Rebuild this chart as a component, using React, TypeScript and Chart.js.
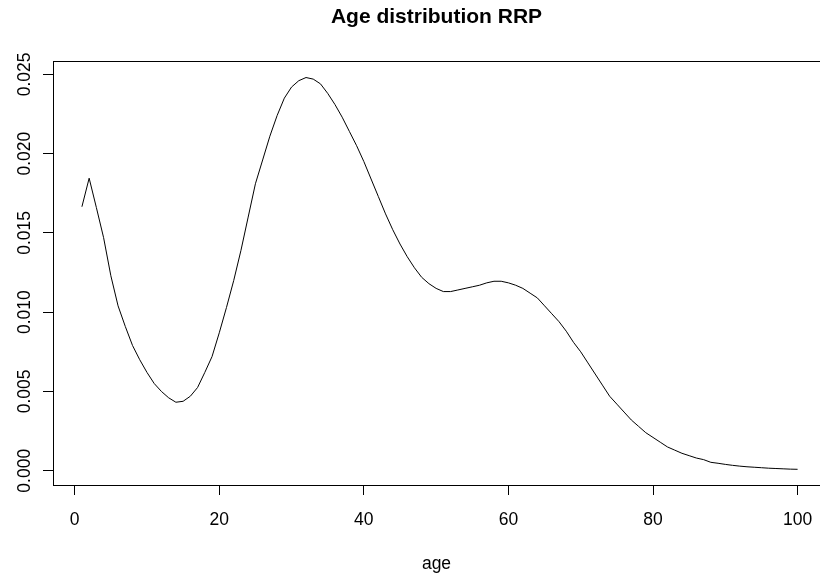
import React, { useEffect, useRef } from "react";
import { Chart, registerables } from "chart.js";

Chart.register(...registerables);

const chartTitle = "Age distribution RRP";
const xAxisTitle = "age";

const ages = [
  1, 2, 3, 4, 5, 6, 7, 8, 9, 10,
  11, 12, 13, 14, 15, 16, 17, 18, 19, 20,
  21, 22, 23, 24, 25, 26, 27, 28, 29, 30,
  31, 32, 33, 34, 35, 36, 37, 38, 39, 40,
  41, 42, 43, 44, 45, 46, 47, 48, 49, 50,
  51, 52, 53, 54, 55, 56, 57, 58, 59, 60,
  61, 62, 63, 64, 65, 66, 67, 68, 69, 70,
  71, 72, 73, 74, 75, 76, 77, 78, 79, 80,
  81, 82, 83, 84, 85, 86, 87, 88, 89, 90,
  91, 92, 93, 94, 95, 96, 97, 98, 99, 100,
];

const density = [
  0.01665, 0.01845, 0.0166, 0.0147, 0.0123, 0.0104, 0.0091, 0.0079, 0.007, 0.0062,
  0.0055, 0.005, 0.0046, 0.00432, 0.00438, 0.0047, 0.00525, 0.0062, 0.0072, 0.0087,
  0.0103, 0.012, 0.0139, 0.016, 0.0181, 0.0196, 0.0211, 0.0224, 0.0235, 0.0242,
  0.0246, 0.0248, 0.0247, 0.0244, 0.0238, 0.0231, 0.0223, 0.0214, 0.0205, 0.0195,
  0.0184, 0.0173, 0.0162, 0.0152, 0.0143, 0.0135, 0.0128, 0.0122, 0.0118, 0.0115,
  0.0113, 0.0113, 0.0114, 0.0115, 0.0116, 0.0117, 0.01185, 0.01195, 0.01195, 0.01185,
  0.0117, 0.0115, 0.0112, 0.0109, 0.0104, 0.0099, 0.0094, 0.0088, 0.0081, 0.0075,
  0.0068, 0.0061, 0.0054, 0.0047, 0.0042, 0.0037, 0.0032, 0.0028, 0.0024, 0.0021,
  0.0018, 0.0015, 0.0013, 0.0011, 0.00095, 0.0008, 0.0007, 0.00053, 0.00047, 0.0004,
  0.00034, 0.00029, 0.00025, 0.00022, 0.00019, 0.00016, 0.00014, 0.00012, 0.0001, 0.00009,
];

const xTicks = [0, 20, 40, 60, 80, 100];
const yTicks = [0, 0.005, 0.01, 0.015, 0.02, 0.025];

const FONT = "'Liberation Sans', Arial, sans-serif";

const boxPlugin = {
  id: "plotBox",
  afterDraw(chart: any) {
    const { ctx, chartArea } = chart;
    ctx.save();
    ctx.strokeStyle = "#000";
    ctx.lineWidth = 1;
    ctx.strokeRect(
      Math.round(chartArea.left) + 0.5,
      Math.round(chartArea.top) + 0.5,
      Math.round(chartArea.right - chartArea.left) + 10,
      Math.round(chartArea.bottom - chartArea.top)
    );
    ctx.restore();
  },
};

export default function App() {
  const ref = useRef<HTMLCanvasElement>(null);

  useEffect(() => {
    document.body.style.margin = "0";
    const canvas = ref.current;
    if (!canvas) return;
    const chart = new Chart(canvas, {
      type: "line",
      data: {
        datasets: [
          {
            data: ages.map((a, i) => ({ x: a, y: density[i] })),
            borderColor: "#000",
            borderWidth: 1,
            pointRadius: 0,
            tension: 0,
            fill: false,
          },
        ],
      },
      options: {
        animation: false,
        responsive: false,
        devicePixelRatio: 1,
        layout: { padding: { left: 0, right: 0, top: 0, bottom: 0 } },
        plugins: {
          legend: { display: false },
          tooltip: { enabled: false },
          title: {
            display: true,
            text: chartTitle,
            fullSize: false,
            color: "#000",
            font: { family: FONT, size: 21, weight: "bold", lineHeight: 1.2 },
            padding: { top: 5, bottom: 31 },
          },
        },
        scales: {
          x: {
            type: "linear",
            min: -3,
            max: 103.1,
            afterBuildTicks: (s: any) => {
              s.ticks = xTicks.map((v) => ({ value: v }));
            },
            afterFit: (s: any) => {
              s.height = 90;
              s.paddingLeft = 0;
              s.paddingRight = 0;
            },
            border: { display: false },
            grid: {
              drawOnChartArea: false,
              drawTicks: true,
              tickLength: 10,
              color: "#000",
              lineWidth: 1,
            },
            ticks: {
              color: "#000",
              padding: 15,
              maxRotation: 0,
              autoSkip: false,
              font: { family: FONT, size: 17.5 },
              callback: (v: any) => String(v),
            },
            title: {
              display: true,
              text: xAxisTitle,
              color: "#000",
              font: { family: FONT, size: 17.5 },
              padding: { top: 0, bottom: 0 },
            },
          },
          y: {
            type: "linear",
            min: -0.0009,
            max: 0.02583,
            afterBuildTicks: (s: any) => {
              s.ticks = yTicks.map((v) => ({ value: v }));
            },
            afterFit: (s: any) => {
              s.width = 53;
              s.paddingTop = 0;
              s.paddingBottom = 0;
            },
            border: { display: false },
            grid: {
              drawOnChartArea: false,
              drawTicks: true,
              tickLength: 10,
              color: "#000",
              lineWidth: 1,
            },
            ticks: {
              color: "#000",
              padding: -3.6,
              minRotation: 90,
              maxRotation: 90,
              crossAlign: "center",
              autoSkip: false,
              font: { family: FONT, size: 17.5 },
              callback: (v: any) => Number(v).toFixed(3),
            },
          },
        },
      },
      plugins: [boxPlugin],
    } as any);
    return () => chart.destroy();
  }, []);

  return (
    <div style={{ position: "absolute", left: 0, top: 0, width: 820, height: 575, background: "#fff" }}>
      <canvas ref={ref} width={820} height={575} />
    </div>
  );
}
